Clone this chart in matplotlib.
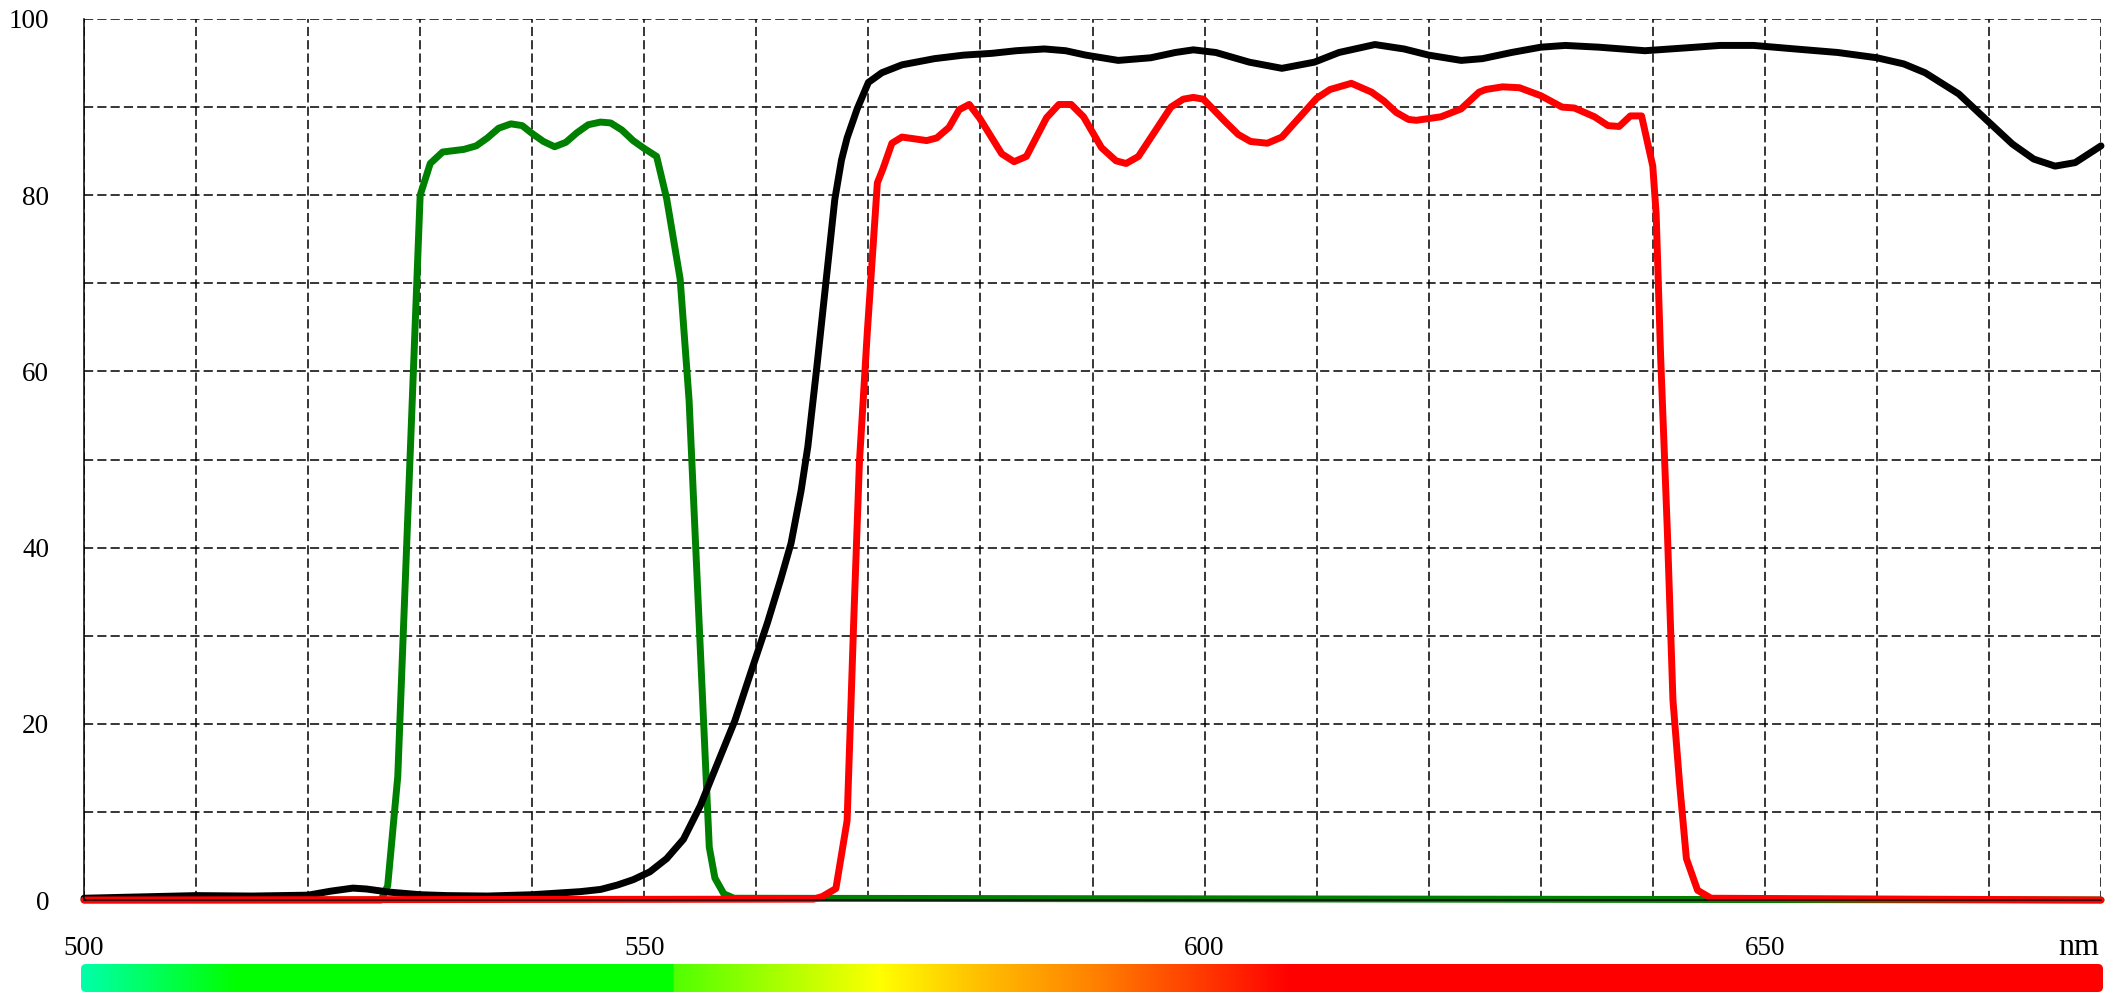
import numpy as np
import matplotlib
matplotlib.use('Agg')
import matplotlib.pyplot as plt
from matplotlib.patches import FancyBboxPatch
from matplotlib.ticker import MultipleLocator

plt.rcParams['font.family'] = ['Liberation Serif', 'DejaVu Serif']

# ── transmission curves (wavelength nm, transmission %) ───────────────────────
green_nm = [500, 526.5, 527.1, 528.0, 530.0, 530.9, 532.0, 533.9, 535.0, 536.0,
            537.0, 538.1, 539.1, 540.0, 541.0, 542.0, 543.0, 544.0, 545.0,
            546.1, 547.0, 548.0, 549.0, 550.0, 551.1, 552.0, 553.2, 554.0,
            555.0, 555.8, 556.3, 557.1, 558.0, 680]
green_t = [0, 0, 1.6, 14.0, 80.0, 83.6, 84.9, 85.2, 85.6, 86.5,
           87.6, 88.1, 87.9, 87.0, 86.1, 85.5, 86.0, 87.1, 88.0,
           88.3, 88.2, 87.4, 86.2, 85.3, 84.4, 79.6, 70.5, 56.7,
           28.5, 6.0, 2.5, 0.7, 0.2, 0]

black_nm = [500, 505, 510, 515, 520, 522, 524, 525.2, 527.2, 530, 532.4, 536,
            540, 544.3, 546.1, 547.6, 549, 550.5, 552, 553.5, 555, 556.5,
            558.1, 559.5, 561.0, 562.2, 563.1, 564.0, 564.6, 565.4, 566.2,
            567.0, 567.6, 568.1, 569,
            570, 571.2, 573, 575.9, 578.5, 581, 583.2, 585.7, 587.6, 589.4,
            592.3, 595.2, 597.4, 599, 601, 604, 606.9, 609.8, 612, 615.2,
            617.8, 620, 622.9, 624.8, 627.4, 630, 632.2, 635.2, 639.3, 642.7,
            646, 649, 652.7, 656.5, 660, 662.4, 664.3, 667.3, 669.9, 672.1,
            674, 675.9, 677.7, 680]
black_t = [0.2, 0.35, 0.5, 0.45, 0.55, 1.0, 1.35, 1.25, 0.9, 0.6, 0.5, 0.45,
           0.6, 0.95, 1.2, 1.7, 2.3, 3.2, 4.7, 6.9, 10.7, 15.4,
           20.4, 25.8, 31.5, 36.5, 40.5, 46.5, 51.5, 60.5, 70.0,
           79.5, 84.0, 86.5, 89.8,
           92.8, 93.9, 94.8, 95.5, 95.9, 96.1, 96.4, 96.6, 96.4, 95.9,
           95.3, 95.6, 96.2, 96.5, 96.2, 95.1, 94.4, 95.1, 96.2, 97.1,
           96.6, 95.9, 95.3, 95.5, 96.2, 96.8, 97.0, 96.8, 96.4, 96.7,
           97.0, 97.0, 96.6, 96.2, 95.6, 94.9, 93.9, 91.5, 88.4, 85.8,
           84.1, 83.3, 83.7, 85.6]

red_nm = [500, 565.1, 565.9, 567.1, 568.1, 568.7, 569.2, 569.9, 570.8, 571.3,
          572.1, 573.0, 575.2, 576.1, 577.2, 578.1, 579.0, 579.9, 581.9,
          583.0, 584.1, 585.9, 587.0, 588.1, 589.2, 590.8, 592.1, 593.0,
          594.1, 597.0, 598.1, 599.0, 599.9, 601.8, 603.0, 604.1, 605.6,
          606.9, 610.0, 611.2, 613.1, 614.9, 616.0, 617.1, 618.2, 618.9,
          621.1, 622.9, 624.5, 625.1, 626.6, 628.1, 630.0, 631.9, 633.0,
          634.8, 636.0, 637.0, 638.0, 639.0, 640.0, 640.3, 640.7, 641.3,
          641.8, 642.4, 643.0, 644.0, 645.2, 680]
red_t = [0, 0.1, 0.4, 1.3, 9.0, 32.0, 49.7, 64.4, 81.4, 83.0,
         85.9, 86.6, 86.2, 86.5, 87.7, 89.7, 90.3, 88.8, 84.7,
         83.8, 84.4, 88.8, 90.3, 90.3, 88.9, 85.4, 83.9, 83.6,
         84.4, 90.0, 90.9, 91.1, 90.9, 88.4, 86.9, 86.1, 85.9,
         86.6, 91.0, 92.0, 92.7, 91.7, 90.7, 89.4, 88.6, 88.5,
         88.9, 89.8, 91.7, 92.0, 92.3, 92.2, 91.3, 90.0, 89.9,
         88.9, 87.9, 87.8, 89.0, 89.0, 83.3, 77.9, 61.7, 41.9,
         22.7, 13.1, 4.7, 1.1, 0.2, 0]

# ── spectrum strip colour stops ───────────────────────────────────────────────
bar_nm = [499.7, 513.5, 552.5, 552.6, 571.0, 580.0, 590.0, 596.0, 607.5, 680.1]
bar_r = [0, 0, 0, 80, 255, 255, 255, 255, 255, 255]
bar_g = [255, 255, 255, 255, 255, 190, 130, 85, 0, 0]
bar_b = [170, 0, 0, 0, 0, 0, 0, 0, 0, 0]

x_major = [500, 550, 600, 650]
y_major = [0, 20, 40, 60, 80, 100]

# ── figure ────────────────────────────────────────────────────────────────────
W, H = 2116, 993
fig = plt.figure(figsize=(W / 100, H / 100), dpi=100)
ax = fig.add_axes([84 / W, 93 / H, 2017 / W, 881 / H])

line_kw = dict(lw=5.0, solid_joinstyle='round', solid_capstyle='round',
               clip_on=False)
ax.plot(green_nm, green_t, color='#008000', zorder=2.0, **line_kw)
ax.plot(black_nm, black_t, color='black', zorder=2.1, **line_kw)
ax.plot(red_nm, red_t, color='#ff0000', zorder=2.2, **line_kw)

ax.set_xlim(500, 680)
ax.set_ylim(0, 100)
ax.set_xticks(x_major)
ax.set_yticks(y_major)
ax.xaxis.set_minor_locator(MultipleLocator(10))
ax.yaxis.set_minor_locator(MultipleLocator(10))
ax.grid(which='both', color='black', linestyle=(0, (6.0, 2.7)), linewidth=1.1)
ax.tick_params(which='both', length=0)
ax.tick_params(axis='x', labelsize=19.5, pad=26)
ax.tick_params(axis='y', labelsize=19.5, pad=25)

for s in ('top', 'right'):
    ax.spines[s].set_visible(False)
for s in ('left', 'bottom'):
    ax.spines[s].set_linewidth(1.1)
    ax.spines[s].set_color('black')

fig.text(2099 / W, (993 - 955) / H, 'nm', ha='right', va='baseline',
         fontsize=23)

# ── spectrum strip ────────────────────────────────────────────────────────────
bw, bh = 2022, 28
bax = fig.add_axes([81 / W, 1 / H, bw / W, bh / H])
bax.set_xlim(0, bw)
bax.set_ylim(0, bh)
bax.axis('off')
cols = np.linspace(bar_nm[0], bar_nm[-1], bw)
rgb = np.stack([np.interp(cols, bar_nm, bar_r),
                np.interp(cols, bar_nm, bar_g),
                np.interp(cols, bar_nm, bar_b)], axis=-1) / 255.0
img = np.repeat(rgb[np.newaxis, :, :], 2, axis=0)
im = bax.imshow(img, extent=(0, bw, 0, bh), aspect='auto',
                interpolation='nearest')
clip = FancyBboxPatch((0, 0), bw, bh, boxstyle='round,pad=0,rounding_size=5',
                      transform=bax.transData, facecolor='none',
                      edgecolor='none')
bax.add_patch(clip)
im.set_clip_path(clip)

fig.savefig('out.png', dpi=100)
